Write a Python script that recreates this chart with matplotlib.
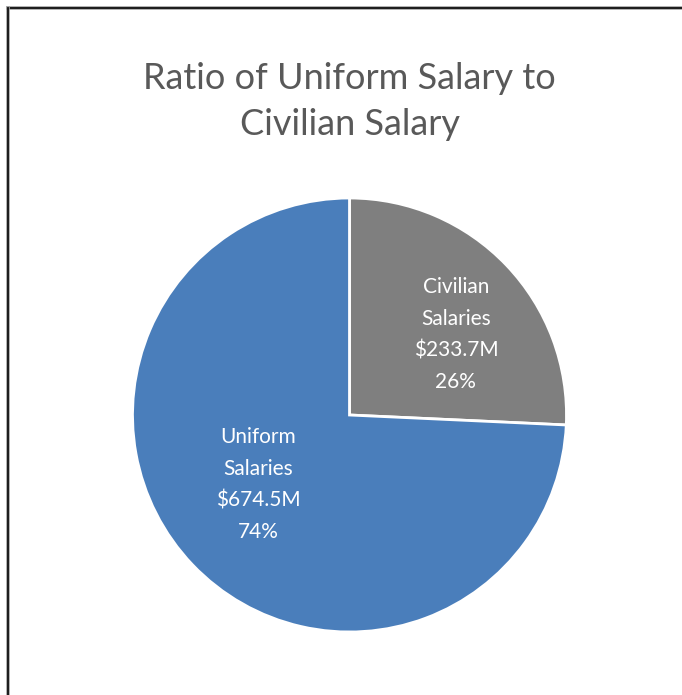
import matplotlib

matplotlib.use("Agg")
import matplotlib.pyplot as plt
from matplotlib.lines import Line2D

plt.rcParams["font.family"] = ["Lato", "DejaVu Sans"]

TITLE = "Ratio of Uniform Salary to\nCivilian Salary"
categories = ["Civilian\nSalaries", "Uniform\nSalaries"]
salaries_m = [233.7, 674.5]
colors = ["#7F7F7F", "#4A7EBB"]

TEXT_GREY = "#595959"

W, H = 682, 695
fig = plt.figure(figsize=(W / 100, H / 100), dpi=100)
fig.patch.set_facecolor("white")

# pie axes: centred at (349.5, 415) px with radius 217 px
cx, cy, r = 349.5, 415.0, 217.0
ax = fig.add_axes([(cx - r) / W, (H - cy - r) / H, 2 * r / W, 2 * r / H])
wedges, _ = ax.pie(
    salaries_m,
    colors=colors,
    startangle=90,
    counterclock=False,
    wedgeprops={"edgecolor": "white", "linewidth": 2},
)
ax.set_xlim(-1, 1)
ax.set_ylim(-1, 1)
ax.set_aspect("auto")
ax.axis("off")

total = sum(salaries_m)
label_pos = [(0.49, 0.37), (-0.42, -0.32)]
for name, value, (x, y) in zip(categories, salaries_m, label_pos):
    pct = round(100 * value / total)
    ax.text(
        x, y, f"{name}\n${value:.1f}M\n{pct}%",
        ha="center", va="center", color="white", fontsize=15, linespacing=1.72,
    )

fig.text(cx / W, (H - 101.5) / H, TITLE, ha="center", va="center",
         color=TEXT_GREY, fontsize=26, linespacing=1.48)

# frame along the top and left edges
for xs, ys in [((7.5 / W, 1.0), (1 - 7.5 / H, 1 - 7.5 / H)),
               ((7.5 / W, 7.5 / W), (0.0, 1 - 7.5 / H))]:
    fig.add_artist(Line2D(xs, ys, color="#A0A0A0", linewidth=2.6, transform=fig.transFigure))
    fig.add_artist(Line2D(xs, ys, color="#111111", linewidth=1.3, transform=fig.transFigure))

fig.savefig("out.png", dpi=100)
